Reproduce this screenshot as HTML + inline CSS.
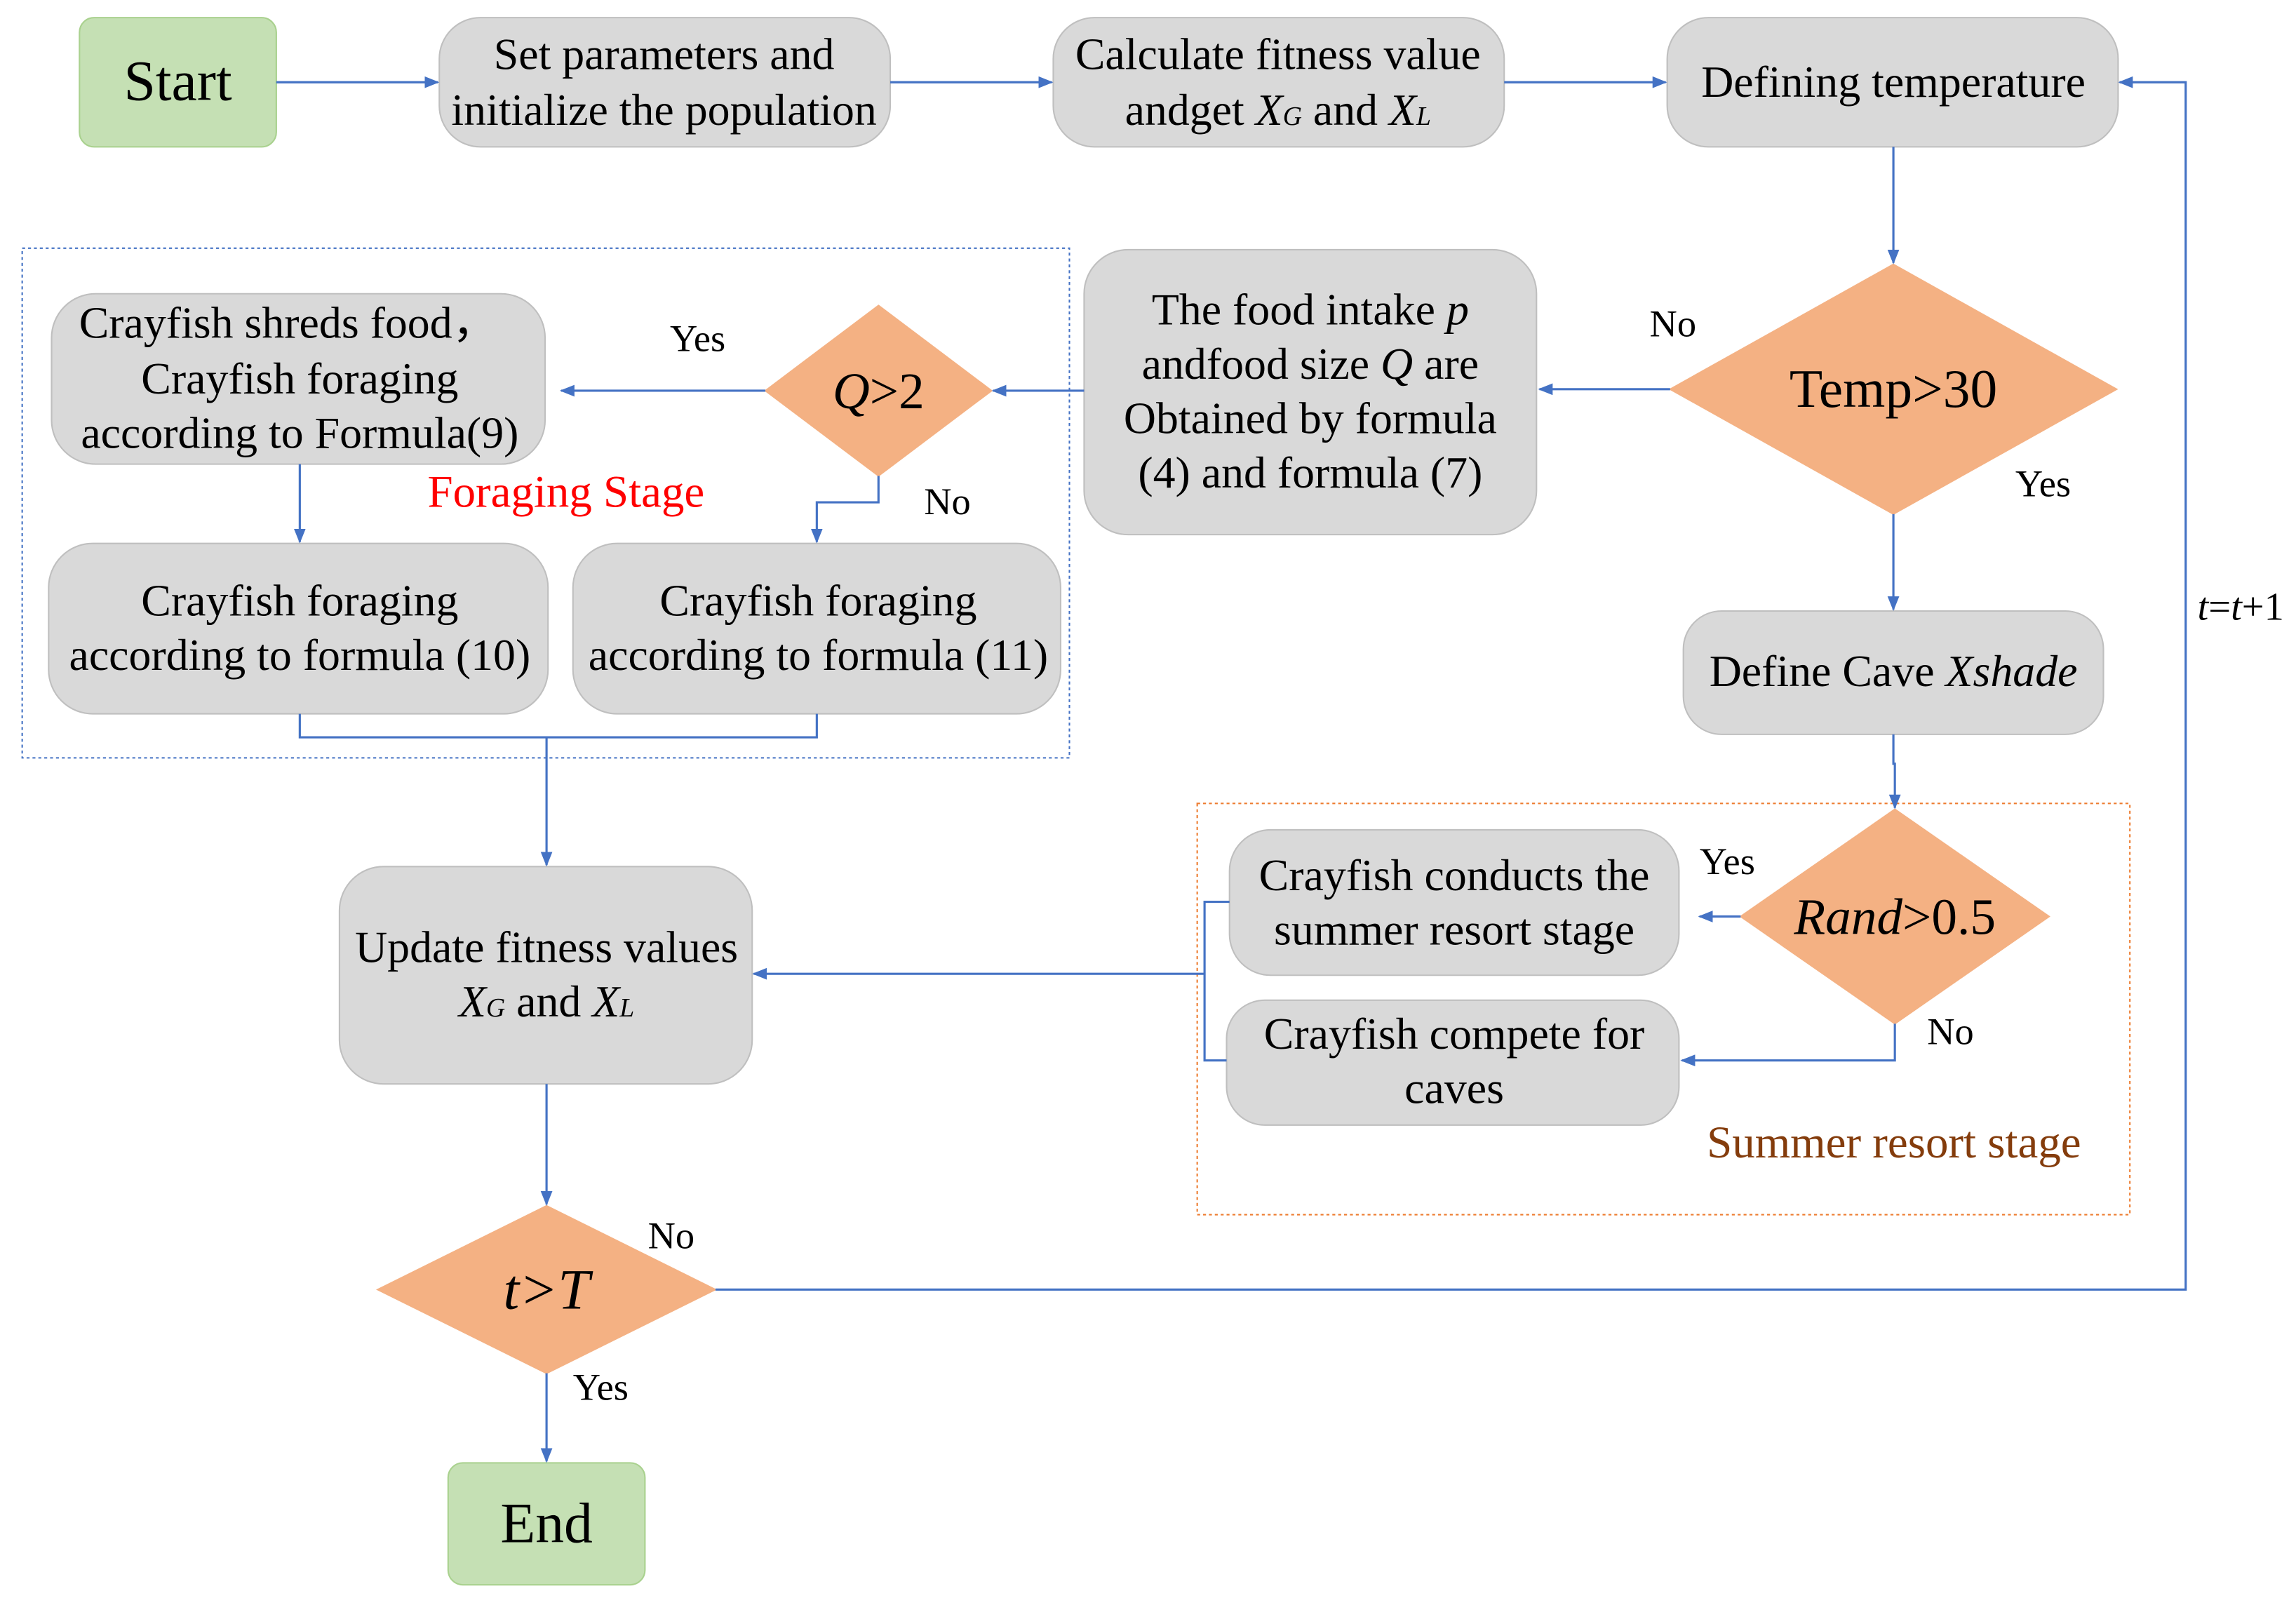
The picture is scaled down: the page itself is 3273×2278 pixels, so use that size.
<!DOCTYPE html>
<html><head><meta charset="utf-8"><style>
html,body{margin:0;padding:0;background:#fff}
svg{display:block}
text{font-family:"Liberation Serif",serif;fill:#000}
</style></head><body>
<svg width="3273" height="2278" viewBox="0 0 1563 1088" xmlns="http://www.w3.org/2000/svg">
<defs><marker id="a" markerWidth="10" markerHeight="8" refX="9" refY="4" orient="auto" markerUnits="userSpaceOnUse"><path d="M0,0 L10,4 L0,8 Z" fill="#4472c4"/></marker></defs>
<rect width="1563" height="1088" fill="#fff"/>
<rect x="15" y="169" width="713" height="347" fill="none" stroke="#4472c4" stroke-width="1" stroke-dasharray="2,2"/>
<rect x="815" y="547" width="635" height="280" fill="none" stroke="#ed7d31" stroke-width="1" stroke-dasharray="2,2"/>
<g stroke="#bfbfbf" stroke-width="1">
<rect x="54" y="12" width="134" height="88" rx="10" fill="#c5e0b4" stroke="#a9d18e"/>
<rect x="299" y="12" width="307" height="88" rx="28" fill="#d9d9d9"/>
<rect x="717" y="12" width="307" height="88" rx="28" fill="#d9d9d9"/>
<rect x="1135" y="12" width="307" height="88" rx="28" fill="#d9d9d9"/>
<rect x="738" y="170" width="308" height="194" rx="30" fill="#d9d9d9"/>
<rect x="35" y="200" width="336" height="116" rx="30" fill="#d9d9d9"/>
<rect x="33" y="370" width="340" height="116" rx="30" fill="#d9d9d9"/>
<rect x="390" y="370" width="332" height="116" rx="30" fill="#d9d9d9"/>
<rect x="1146" y="416" width="286" height="84" rx="26" fill="#d9d9d9"/>
<rect x="837" y="565" width="306" height="99" rx="28" fill="#d9d9d9"/>
<rect x="835" y="681" width="308" height="85" rx="26" fill="#d9d9d9"/>
<rect x="231" y="590" width="281" height="148" rx="30" fill="#d9d9d9"/>
<rect x="305" y="996" width="134" height="83" rx="10" fill="#c5e0b4" stroke="#a9d18e"/>
</g>
<g fill="#f4b183" stroke="#f4b183">
<polygon points="1289,180 1441,265 1289,350 1137,265"/>
<polygon points="598,208 675,266 598,324 521,266"/>
<polygon points="1290,551 1395,624 1290,697 1185,624"/>
<polygon points="372,821 487,878 372,935 257,878"/>
</g>
<g stroke="#4472c4" stroke-width="1.5" fill="none">
<line x1="188" y1="56" x2="298" y2="56" marker-end="url(#a)"/>
<line x1="606" y1="56" x2="716" y2="56" marker-end="url(#a)"/>
<line x1="1024" y1="56" x2="1134" y2="56" marker-end="url(#a)"/>
<line x1="1289" y1="100" x2="1289" y2="179" marker-end="url(#a)"/>
<line x1="1137" y1="265" x2="1048" y2="265" marker-end="url(#a)"/>
<line x1="1289" y1="350" x2="1289" y2="415" marker-end="url(#a)"/>
<line x1="738" y1="266" x2="676" y2="266" marker-end="url(#a)"/>
<line x1="521" y1="266" x2="382" y2="266" marker-end="url(#a)"/>
<polyline points="598,324 598,342 556,342 556,369" marker-end="url(#a)"/>
<line x1="204" y1="316" x2="204" y2="369" marker-end="url(#a)"/>
<polyline points="204,486 204,502 556,502 556,486"/>
<line x1="372" y1="502" x2="372" y2="589" marker-end="url(#a)"/>
<polyline points="1289,500 1289,520 1290,520 1290,550" marker-end="url(#a)"/>
<line x1="1185" y1="624" x2="1157" y2="624" marker-end="url(#a)"/>
<polyline points="1290,697 1290,722 1145,722" marker-end="url(#a)"/>
<polyline points="837,614 820,614 820,722 835,722"/>
<line x1="820" y1="663" x2="513" y2="663" marker-end="url(#a)"/>
<line x1="372" y1="738" x2="372" y2="820" marker-end="url(#a)"/>
<line x1="372" y1="935" x2="372" y2="995" marker-end="url(#a)"/>
<polyline points="487,878 1488,878 1488,56 1443,56" marker-end="url(#a)"/>
</g>
<g text-anchor="middle" font-size="30.5">
<text x="121" y="68" font-size="39">Start</text>
<text x="452" y="47">Set parameters and</text>
<text x="452" y="85">initialize the population</text>
<text x="870" y="47">Calculate fitness value</text>
<text x="870" y="85">andget <tspan font-style="italic">X<tspan font-size="18">G</tspan></tspan> and <tspan font-style="italic">X<tspan font-size="18">L</tspan></tspan></text>
<text x="1289" y="66">Defining temperature</text>
<text x="1289" y="277" font-size="37">Temp&gt;30</text>
<text x="892" y="221">The food intake <tspan font-style="italic">p</tspan></text>
<text x="892" y="258">andfood size <tspan font-style="italic">Q</tspan> are</text>
<text x="892" y="295">Obtained by formula</text>
<text x="892" y="332">(4) and formula (7)</text>
<text x="598" y="278" font-size="35"><tspan font-style="italic">Q</tspan>&gt;2</text>
<text x="196" y="230">Crayfish shreds food，</text>
<text x="204" y="268">Crayfish foraging</text>
<text x="204" y="305">according to Formula(9)</text>
<text x="204" y="419">Crayfish foraging</text>
<text x="204" y="456">according to formula (10)</text>
<text x="557" y="419">Crayfish foraging</text>
<text x="557" y="456">according to formula (11)</text>
<text x="1289" y="467">Define Cave <tspan font-style="italic">Xshade</tspan></text>
<text x="990" y="606">Crayfish conducts the</text>
<text x="990" y="643">summer resort stage</text>
<text x="990" y="714">Crayfish compete for</text>
<text x="990" y="751">caves</text>
<text x="1290" y="636" font-size="35"><tspan font-style="italic">Rand</tspan>&gt;0.5</text>
<text x="372" y="655">Update fitness values</text>
<text x="372" y="692"><tspan font-style="italic">X<tspan font-size="18">G</tspan></tspan> and <tspan font-style="italic">X<tspan font-size="18">L</tspan></tspan></text>
<text x="372" y="891" font-size="39" font-style="italic">t&gt;T</text>
<text x="372" y="1050" font-size="39">End</text>
</g>
<g font-size="26">
<text x="1123" y="229">No</text>
<text x="1372" y="338">Yes</text>
<text x="456" y="239">Yes</text>
<text x="629" y="350">No</text>
<text x="1157" y="595">Yes</text>
<text x="1312" y="711">No</text>
<text x="441" y="850">No</text>
<text x="390" y="953">Yes</text>
<text x="1496" y="422" font-size="27"><tspan font-style="italic">t</tspan>=<tspan font-style="italic">t</tspan>+1</text>
</g>
<text x="291" y="345" font-size="31" style="fill:#ff0000">Foraging Stage</text>
<text x="1162" y="788" font-size="31" style="fill:#843c0c">Summer resort stage</text>
</svg>
</body></html>
